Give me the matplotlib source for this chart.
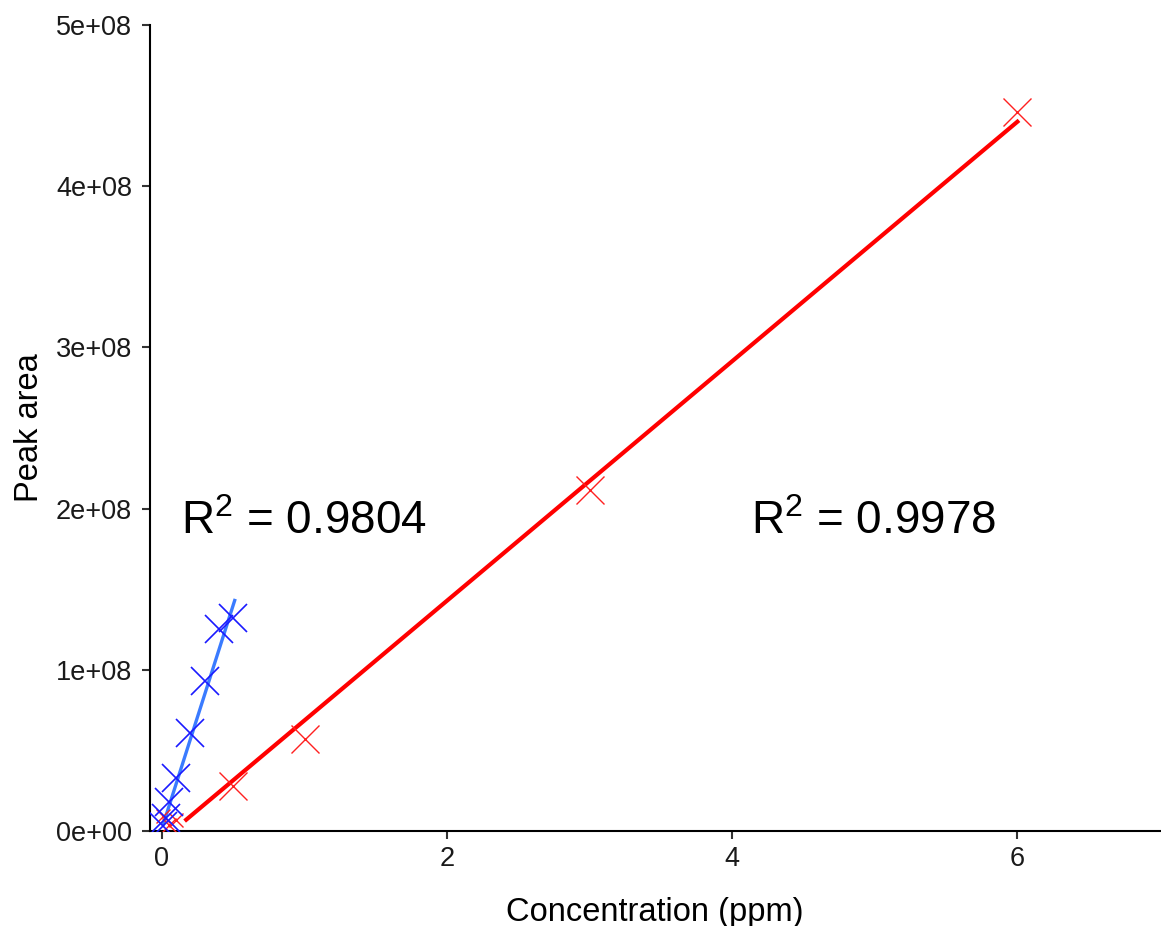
import matplotlib
matplotlib.use("Agg")
import matplotlib.pyplot as plt
import numpy as np

plt.rcParams['font.family'] = ['Liberation Sans', 'DejaVu Sans']
plt.rcParams['mathtext.fontset'] = 'custom'
plt.rcParams['mathtext.rm'] = 'Liberation Sans'
plt.rcParams['mathtext.it'] = 'Liberation Sans'

# blue calibration series
blue_x = [0.01, 0.025, 0.05, 0.1, 0.2, 0.3, 0.4, 0.5]
blue_y = [0.03e8, 0.08e8, 0.18e8, 0.33e8, 0.61e8, 0.93e8, 1.25e8, 1.32e8]
blue_fit_x = [0.01, 0.51]
blue_fit_y = [0.045e8, 1.43e8]
blue_r2 = "0.9804"

# red calibration series
red_x = [0.01, 0.05, 0.1, 0.5, 1, 3, 6]
red_y = [0.09e8, 0.04e8, 0.07e8, 0.28e8, 0.57e8, 2.115e8, 4.46e8]
red_fit_x = [0.17, 6.0]
red_fit_y = [0.07e8, 4.40e8]
red_r2 = "0.9978"

xticks = [0, 2, 4, 6]
yticks = [0, 1e8, 2e8, 3e8, 4e8, 5e8]
ytick_labels = ["0e+00", "1e+08", "2e+08", "3e+08", "4e+08", "5e+08"]

fig = plt.figure(figsize=(11.61, 9.26), dpi=100)
ax = fig.add_axes([0.1292, 0.1026, 0.8699, 0.8704])

ax.plot(blue_fit_x, blue_fit_y, color='#3a7bff', lw=2.4, zorder=2)
ax.plot(red_fit_x, red_fit_y, color='#ff0000', lw=3.0, zorder=2)

sizes_red = [10, 10, 10, 20, 20, 20, 20]
for x, y, s in zip(red_x, red_y, sizes_red):
    ax.plot(x, y, 'x', color='#ff2020', ms=s, mew=1.0, zorder=3)
ax.plot(blue_x, blue_y, 'x', color='#1a1aff', ms=20, mew=1.2, zorder=3, ls='none')

ax.text(0.13, 1.84e8, r"R$^2$ = " + blue_r2, fontsize=33)
ax.text(4.13, 1.84e8, r"R$^2$ = " + red_r2, fontsize=33)

ax.set_xlim(-0.084, 7.0)
ax.set_ylim(0, 5e8)
ax.set_xticks(xticks)
ax.set_xticklabels([str(t) for t in xticks])
ax.set_yticks(yticks)
ax.set_yticklabels(ytick_labels)
ax.tick_params(labelsize=19.5, length=6, width=1.5, color='#333333', labelcolor='#1a1a1a')
ax.tick_params(axis='y', pad=7)
ax.tick_params(axis='x', pad=5)
for side in ['top', 'right']:
    ax.spines[side].set_visible(False)
for side in ['left', 'bottom']:
    ax.spines[side].set_linewidth(1.5)
ax.set_xlabel("Concentration (ppm)", fontsize=23.5, labelpad=18)
ax.set_ylabel("Peak area", fontsize=23.5, labelpad=8)

fig.savefig("out.png", dpi=100)
